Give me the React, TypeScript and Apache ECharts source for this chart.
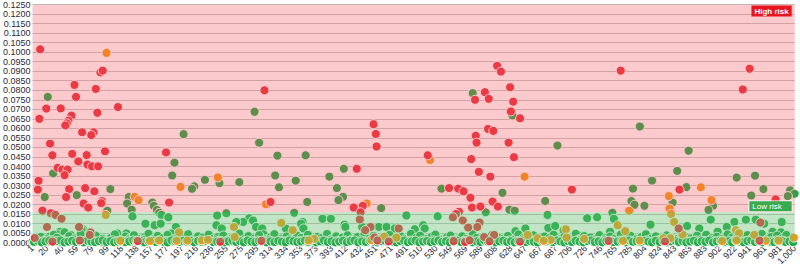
import React, { useEffect, useRef } from 'react';
import * as echarts from 'echarts';

// ---- axis definitions ----
const tickLabels = [1, 20, 40, 59, 79, 99, 118, 138, 157, 177, 197, 216, 236, 255, 275, 295, 314, 334, 353, 373, 393, 412, 432, 451, 471, 491, 510, 530, 549, 569, 589, 608, 628, 647, 667, 687, 706, 726, 746, 765, 785, 804, 824, 843, 863, 883, 902, 922, 941, 961, 981, 1000];
const xMin = 1;
const xMax = 1000;
const yMin = 0;
const yMax = 0.125;
const yStep = 0.005;
const lowRiskLimit = 0.016;
const highRiskName = 'High risk';
const lowRiskName = 'Low risk';

// ---- red (high) points: [index, value] ----
const redPoints: [number, number][] = [
  [11, 0.1015], [90, 0.0894], [93, 0.0903], [56, 0.0828], [84, 0.0807], [58, 0.0765], [19, 0.0704], [38, 0.0705],
  [113, 0.0712], [10, 0.065], [86, 0.0682], [52, 0.0667], [48, 0.0641], [46, 0.0627], [44, 0.0616], [66, 0.058],
  [81, 0.058], [78, 0.0565], [24, 0.052], [27, 0.0459], [53, 0.0466], [72, 0.046], [96, 0.048], [61, 0.0427],
  [73, 0.041], [79, 0.0401], [87, 0.0401], [34, 0.0393], [40, 0.0384], [47, 0.0384], [43, 0.0355], [9, 0.0325],
  [8, 0.0279], [49, 0.0282], [70, 0.0287], [82, 0.027], [45, 0.024], [68, 0.0206], [74, 0.0185], [92, 0.0219],
  [91, 0.0208], [14, 0.0168], [25, 0.0155], [31, 0.0146], [39, 0.0126], [20, 0.0083], [62, 0.0083], [77, 0.0055],
  [76, 0.0041], [4, 0.0025], [176, 0.0474], [180, 0.0211],
  [305, 0.08], [313, 0.0214], [422, 0.0185], [434, 0.0194], [431, 0.016], [430, 0.0122], [444, 0.0083], [437, 0.0066],
  [481, 0.0075], [547, 0.0287], [559, 0.0284], [566, 0.027], [575, 0.0236], [708, 0.0279], [577, 0.0185], [588, 0.019],
  [604, 0.0216], [611, 0.019], [601, 0.0347], [560, 0.0163], [556, 0.0151], [552, 0.0134], [565, 0.0117], [572, 0.008],
  [587, 0.0106], [584, 0.0083], [606, 0.0041],
  [610, 0.0928], [615, 0.0898], [594, 0.079], [581, 0.075], [599, 0.0755], [627, 0.0816], [631, 0.074], [628, 0.0689],
  [640, 0.0653], [582, 0.0561], [598, 0.0597], [605, 0.0587], [583, 0.0525], [625, 0.0525], [576, 0.0439], [586, 0.0372],
  [632, 0.0449], [448, 0.0622], [451, 0.0571], [452, 0.0505], [426, 0.0388], [519, 0.0459],
  [772, 0.0903], [941, 0.0913], [932, 0.0804], [849, 0.0279], [975, 0.0228], [955, 0.0106], [848, 0.0075],
  [27, 0.0006], [63, 0.0012], [139, 0.0009], [247, 0.0005], [301, 0.001], [449, 0.0028], [453, 0.0012], [468, 0.0007],
  [553, 0.0009], [568, 0.0004], [574, 0.0013], [593, 0.003], [600, 0.0008], [640, 0.0006], [756, 0.001], [830, 0.0007],
  [954, 0.0011],
];

// ---- orange (medium) points ----
const orangePoints: [number, number][] = [
  [98, 0.0996], [135, 0.0241], [140, 0.0224], [195, 0.0293], [244, 0.0343], [307, 0.0202], [439, 0.0206], [522, 0.0434],
  [646, 0.0347], [877, 0.0291], [835, 0.0245], [836, 0.018], [891, 0.0224], [783, 0.0168], [999, 0.0027],
  [97, 0.0146], [193, 0.0055], [116, 0.001], [137, 0.0011], [155, 0.0009], [167, 0.0012], [190, 0.001], [204, 0.0011],
  [223, 0.0012], [327, 0.0104], [265, 0.0083], [342, 0.0066], [266, 0.003], [370, 0.002], [462, 0.0032], [478, 0.0027],
  [231, 0.0015], [650, 0.0041], [663, 0.0024], [700, 0.0071], [724, 0.002], [701, 0.0027], [680, 0.0015], [671, 0.001],
  [838, 0.0151], [842, 0.0109], [768, 0.0092], [778, 0.0061], [923, 0.0066], [927, 0.005], [947, 0.0041], [853, 0.0044],
  [828, 0.0024], [837, 0.0024], [775, 0.001], [797, 0.0011], [905, 0.0009], [924, 0.0012], [962, 0.001], [979, 0.0011],
  [363, 0.0012], [445, 0.0014],
];

// ---- green (low) points ----
const greenPoints: [number, number][] = [
  // above the band
  [21, 0.0765], [28, 0.0364], [103, 0.0282], [17, 0.024], [59, 0.025], [99, 0.0168], [199, 0.057], [187, 0.042],
  [184, 0.0353], [213, 0.0296], [210, 0.0283], [227, 0.033], [127, 0.024], [125, 0.0206], [131, 0.0173], [158, 0.0211],
  [160, 0.0194], [164, 0.0172], [167, 0.0157], [170, 0.0146], [179, 0.0134], [132, 0.0139], [292, 0.0687], [298, 0.0525],
  [322, 0.0457], [246, 0.0313], [272, 0.0318], [319, 0.0353], [346, 0.0326], [324, 0.0291], [361, 0.0214], [400, 0.0287],
  [408, 0.0241], [402, 0.0224], [390, 0.0347], [458, 0.0182], [359, 0.0459], [409, 0.0388], [537, 0.0284], [617, 0.0262],
  [673, 0.0219], [595, 0.016], [626, 0.0173], [633, 0.0168], [676, 0.0146], [578, 0.0785], [630, 0.0668], [689, 0.051],
  [797, 0.061], [861, 0.0483], [846, 0.0377], [813, 0.0326], [924, 0.0342], [948, 0.0352], [788, 0.0284], [858, 0.0292],
  [959, 0.0282], [994, 0.0275], [1000, 0.0257], [991, 0.0245], [943, 0.0248], [840, 0.0211], [893, 0.0194], [887, 0.0172],
  [786, 0.0219], [790, 0.0199], [803, 0.0194], [761, 0.0157],
  // inside the band
  [37, 0.0058], [67, 0.0071], [23, 0.0032], [51, 0.0041], [89, 0.0015], [149, 0.01], [161, 0.0092], [169, 0.01],
  [189, 0.0083], [183, 0.0049], [112, 0.0049], [124, 0.0049], [34, 0.0044], [43, 0.0055], [65, 0.007], [12, 0.0024],
  [243, 0.0143], [255, 0.0155], [285, 0.0129], [290, 0.0117], [344, 0.0157], [381, 0.0126], [392, 0.0126], [410, 0.0095],
  [455, 0.0083], [465, 0.0083], [277, 0.0109], [294, 0.0083], [355, 0.0109], [433, 0.0083], [491, 0.0143], [532, 0.0139],
  [728, 0.0129], [741, 0.0134], [513, 0.0092], [515, 0.0075], [502, 0.0071], [634, 0.0061], [647, 0.0075], [677, 0.0078],
  [686, 0.0088], [697, 0.0066], [721, 0.0037], [763, 0.0126], [890, 0.0121], [936, 0.0121], [949, 0.0121], [983, 0.0109],
  [960, 0.01], [811, 0.0095], [859, 0.0088], [758, 0.0058], [911, 0.0083], [921, 0.0109], [971, 0.0058], [982, 0.0055],
  [875, 0.0075], [899, 0.0058], [242, 0.0092], [249, 0.0075], [268, 0.0109], [302, 0.0075], [304, 0.0044], [333, 0.0075],
  [353, 0.01], [356, 0.0075], [411, 0.0083], [476, 0.0075],
  // second layer near the floor
  [3, 0.0022], [12, 0.0031], [19, 0.0018], [29, 0.0042], [33, 0.0026], [44, 0.0019], [49, 0.0035], [57, 0.0023],
  [64, 0.0046], [73, 0.0017], [79, 0.0029], [84, 0.0038], [93, 0.0021], [104, 0.0027], [109, 0.0044], [118, 0.0016],
  [123, 0.0033], [129, 0.0024], [134, 0.004], [143, 0.002], [148, 0.003], [153, 0.0047], [159, 0.0018], [165, 0.0036],
  [172, 0.0025], [178, 0.0041], [186, 0.0019], [192, 0.0032], [198, 0.0022], [205, 0.0045], [212, 0.0017], [218, 0.0034],
  [224, 0.0027], [232, 0.0043], [238, 0.0021], [244, 0.003], [251, 0.0038], [258, 0.0016], [263, 0.0026], [272, 0.0048],
  [279, 0.002], [284, 0.0035], [292, 0.0023], [298, 0.004], [307, 0.0018], [313, 0.0029], [318, 0.0045], [327, 0.0022],
  [334, 0.0033], [339, 0.0019], [348, 0.0037], [353, 0.0025], [362, 0.0042], [368, 0.0017], [374, 0.0031], [379, 0.0024],
  [387, 0.0046], [393, 0.002], [399, 0.0034], [407, 0.0027], [414, 0.0039], [419, 0.0016], [427, 0.003], [436, 0.0044],
  [442, 0.0021], [448, 0.0036], [457, 0.0018], [463, 0.0028], [469, 0.0041], [477, 0.0023], [484, 0.0033], [489, 0.0019],
  [497, 0.0047], [504, 0.0026], [509, 0.0037], [518, 0.002], [524, 0.0031], [529, 0.0043], [538, 0.0017], [544, 0.0029],
  [549, 0.0038], [558, 0.0022], [564, 0.0034], [569, 0.0019], [578, 0.0045], [583, 0.0025], [592, 0.0032], [598, 0.0018],
  [603, 0.004], [612, 0.0027], [618, 0.0021], [624, 0.0036], [632, 0.0016], [638, 0.0044], [644, 0.0024], [653, 0.003],
  [658, 0.0039], [664, 0.0019], [672, 0.0033], [679, 0.0026], [684, 0.0042], [692, 0.0018], [698, 0.0031], [704, 0.0023],
  [713, 0.0047], [718, 0.002], [724, 0.0035], [732, 0.0028], [738, 0.0017], [744, 0.004], [752, 0.0024], [758, 0.0033],
  [764, 0.0019], [772, 0.0043], [779, 0.0026], [785, 0.0036], [792, 0.0018], [799, 0.003], [805, 0.0045], [812, 0.0022],
  [818, 0.0034], [824, 0.0016], [832, 0.0039], [838, 0.0027], [844, 0.002], [852, 0.0046], [857, 0.0031], [864, 0.0023],
  [872, 0.0037], [878, 0.0018], [884, 0.0042], [892, 0.0025], [898, 0.0032], [904, 0.0019], [912, 0.0044], [918, 0.0028],
  [925, 0.0036], [933, 0.0017], [938, 0.004], [944, 0.0023], [952, 0.0033], [957, 0.0046], [964, 0.002], [969, 0.003],
  [977, 0.0038], [984, 0.0024], [989, 0.0041], [997, 0.0019],
  // floor row
  [1, 0.0008], [6, 0.0012], [11, 0.0005], [16, 0.001], [21, 0.0004], [26, 0.0014], [31, 0.0007], [36, 0.0003], [41, 0.0011], [46, 0.0006],
  [51, 0.0009], [56, 0.0013], [61, 0.0004], [66, 0.0008], [71, 0.0012], [76, 0.0005], [81, 0.001], [86, 0.0007], [91, 0.0003], [96, 0.0011],
  [101, 0.0006], [106, 0.0013], [111, 0.0009], [116, 0.0004], [121, 0.0008], [126, 0.0012], [131, 0.0005], [136, 0.001], [141, 0.0006], [146, 0.0014],
  [151, 0.0003], [156, 0.0009], [161, 0.0007], [166, 0.0012], [171, 0.0004], [176, 0.001], [181, 0.0008], [186, 0.0005], [191, 0.0013], [196, 0.0006],
  [201, 0.0011], [206, 0.0004], [211, 0.0009], [216, 0.0007], [221, 0.0012], [226, 0.0003], [231, 0.001], [236, 0.0006], [241, 0.0013], [246, 0.0008],
  [251, 0.0005], [256, 0.0011], [261, 0.0004], [266, 0.0009], [271, 0.0014], [276, 0.0006], [281, 0.001], [286, 0.0003], [291, 0.0008], [296, 0.0012],
  [301, 0.0005], [306, 0.0009], [311, 0.0013], [316, 0.0007], [321, 0.0004], [326, 0.0011], [331, 0.0008], [336, 0.0006], [341, 0.0012], [346, 0.0003],
  [351, 0.001], [356, 0.0007], [361, 0.0014], [366, 0.0005], [371, 0.0009], [376, 0.0011], [381, 0.0004], [386, 0.0008], [391, 0.0013], [396, 0.0006],
  [401, 0.001], [406, 0.0003], [411, 0.0012], [416, 0.0007], [421, 0.0009], [426, 0.0005], [431, 0.0013], [436, 0.0008], [441, 0.0004], [446, 0.0011],
  [451, 0.0006], [456, 0.001], [461, 0.0014], [466, 0.0003], [471, 0.0009], [476, 0.0007], [481, 0.0012], [486, 0.0005], [491, 0.0008], [496, 0.0011],
  [501, 0.0007], [506, 0.0004], [511, 0.0012], [516, 0.0009], [521, 0.0005], [526, 0.0013], [531, 0.0008], [536, 0.0003], [541, 0.001], [546, 0.0006],
  [551, 0.0011], [556, 0.0014], [561, 0.0004], [566, 0.0009], [571, 0.0007], [576, 0.0012], [581, 0.0005], [586, 0.001], [591, 0.0006], [596, 0.0013],
  [601, 0.0003], [606, 0.0008], [611, 0.0011], [616, 0.0005], [621, 0.0009], [626, 0.0012], [631, 0.0004], [636, 0.001], [641, 0.0007], [646, 0.0014],
  [651, 0.0006], [656, 0.0009], [661, 0.0003], [666, 0.0011], [671, 0.0008], [676, 0.0005], [681, 0.0013], [686, 0.0007], [691, 0.001], [696, 0.0004],
  [701, 0.0012], [706, 0.0006], [711, 0.0009], [716, 0.0014], [721, 0.0005], [726, 0.0008], [731, 0.0011], [736, 0.0003], [741, 0.001], [746, 0.0007],
  [751, 0.0013], [756, 0.0004], [761, 0.0009], [766, 0.0006], [771, 0.0012], [776, 0.0008], [781, 0.0005], [786, 0.0011], [791, 0.0003], [796, 0.001],
  [801, 0.0007], [806, 0.0013], [811, 0.0004], [816, 0.0009], [821, 0.0012], [826, 0.0006], [831, 0.001], [836, 0.0005], [841, 0.0014], [846, 0.0008],
  [851, 0.0003], [856, 0.0011], [861, 0.0007], [866, 0.0009], [871, 0.0012], [876, 0.0004], [881, 0.001], [886, 0.0006], [891, 0.0013], [896, 0.0008],
  [901, 0.0005], [906, 0.0011], [911, 0.0003], [916, 0.0009], [921, 0.0012], [926, 0.0007], [931, 0.0004], [936, 0.001], [941, 0.0006], [946, 0.0013],
  [951, 0.0008], [956, 0.0005], [961, 0.0011], [966, 0.0003], [971, 0.0009], [976, 0.0012], [981, 0.0006], [986, 0.001], [991, 0.0004], [996, 0.0008],
  // interleaved floor row
  [3, 0.0004], [8, 0.0009], [13, 0.0002], [18, 0.0007], [23, 0.0011], [28, 0.0003], [33, 0.0008], [38, 0.0012], [43, 0.0002], [48, 0.0006],
  [53, 0.001], [58, 0.0004], [63, 0.0007], [68, 0.0002], [73, 0.0011], [78, 0.0006], [83, 0.0003], [88, 0.0009], [93, 0.0012], [98, 0.0004],
  [103, 0.0008], [108, 0.0002], [113, 0.0006], [118, 0.0011], [123, 0.0003], [128, 0.0007], [133, 0.0012], [138, 0.0004], [143, 0.0009], [148, 0.0002],
  [153, 0.0006], [158, 0.0011], [163, 0.0003], [168, 0.0008], [173, 0.0005], [178, 0.0002], [183, 0.0012], [188, 0.0007], [193, 0.0003], [198, 0.001],
  [203, 0.0006], [208, 0.0011], [213, 0.0002], [218, 0.0009], [223, 0.0004], [228, 0.0008], [233, 0.0012], [238, 0.0003], [243, 0.0006], [248, 0.001],
  [253, 0.0002], [258, 0.0007], [263, 0.0011], [268, 0.0004], [273, 0.0008], [278, 0.0002], [283, 0.0012], [288, 0.0006], [293, 0.0003], [298, 0.0009],
  [303, 0.0011], [308, 0.0002], [313, 0.0007], [318, 0.0004], [323, 0.001], [328, 0.0006], [333, 0.0002], [338, 0.0012], [343, 0.0008], [348, 0.0004],
  [353, 0.0006], [358, 0.0011], [363, 0.0003], [368, 0.0009], [373, 0.0002], [378, 0.0007], [383, 0.0012], [388, 0.0004], [393, 0.0008], [398, 0.0002],
  [403, 0.0006], [408, 0.0011], [413, 0.0003], [418, 0.0009], [423, 0.0012], [428, 0.0002], [433, 0.0007], [438, 0.0004], [443, 0.001], [448, 0.0006],
  [453, 0.0002], [458, 0.0008], [463, 0.0011], [468, 0.0004], [473, 0.0006], [478, 0.0002], [483, 0.0009], [488, 0.0012], [493, 0.0003], [498, 0.0007],
  [503, 0.0011], [508, 0.0002], [513, 0.0006], [518, 0.0009], [523, 0.0003], [528, 0.0007], [533, 0.0012], [538, 0.0004], [543, 0.0008], [548, 0.0002],
  [553, 0.0006], [558, 0.001], [563, 0.0003], [568, 0.0008], [573, 0.0011], [578, 0.0002], [583, 0.0007], [588, 0.0004], [593, 0.0012], [598, 0.0006],
  [603, 0.0009], [608, 0.0002], [613, 0.0007], [618, 0.0011], [623, 0.0004], [628, 0.0008], [633, 0.0002], [638, 0.0006], [643, 0.0012], [648, 0.0003],
  [653, 0.0009], [658, 0.0005], [663, 0.0002], [668, 0.0011], [673, 0.0006], [678, 0.0009], [683, 0.0003], [688, 0.0012], [693, 0.0007], [698, 0.0002],
  [703, 0.0008], [708, 0.0004], [713, 0.0011], [718, 0.0006], [723, 0.0002], [728, 0.0009], [733, 0.0012], [738, 0.0004], [743, 0.0007], [748, 0.0002],
  [753, 0.0008], [758, 0.0011], [763, 0.0003], [768, 0.0006], [773, 0.0009], [778, 0.0002], [783, 0.0012], [788, 0.0005], [793, 0.0008], [798, 0.0003],
  [803, 0.001], [808, 0.0006], [813, 0.0002], [818, 0.0011], [823, 0.0004], [828, 0.0008], [833, 0.0002], [838, 0.0007], [843, 0.0012], [848, 0.0004],
  [853, 0.0009], [858, 0.0002], [863, 0.0006], [868, 0.0011], [873, 0.0003], [878, 0.0008], [883, 0.0005], [888, 0.0012], [893, 0.0002], [898, 0.0007],
  [903, 0.001], [908, 0.0004], [913, 0.0008], [918, 0.0002], [923, 0.0011], [928, 0.0006], [933, 0.0003], [938, 0.0009], [943, 0.0012], [948, 0.0004],
  [953, 0.0007], [958, 0.0002], [963, 0.001], [968, 0.0006], [973, 0.0003], [978, 0.0008], [983, 0.0011], [988, 0.0004], [993, 0.0007], [998, 0.0003],
];

const colors = {
  red: '#e9333d',
  orange: '#f59a14',
  green: '#1faa46',
  highArea: 'rgba(240,80,90,0.3)',
  lowArea: 'rgba(100,190,110,0.4)',
  highLabel: '#e8141e',
  lowLabel: '#3aaa4e',
  grid: '#c4c4c4',
  axisText: '#2a2a3a',
};

function scatter(name: string, data: [number, number][], color: string) {
  return {
    type: 'scatter',
    name,
    data,
    z: 2,
    symbolSize: 9,
    itemStyle: { color, borderColor: '#ffffff', borderWidth: 1, opacity: 1 },
  };
}

export default function App() {
  const ref = useRef<HTMLDivElement>(null);
  useEffect(() => {
    document.body.style.margin = '0';
    const chart = echarts.init(ref.current as HTMLDivElement, null, { renderer: 'svg' });
    chart.setOption({
      animation: false,
      textStyle: { fontFamily: 'Arial, "Liberation Sans", sans-serif' },
      grid: { left: 28, right: 4, top: 3, bottom: 20, containLabel: false },
      xAxis: {
        type: 'value',
        min: xMin,
        max: xMax,
        axisLine: { show: false },
        axisTick: { show: false },
        splitLine: { show: false },
        axisLabel: {
          customValues: tickLabels,
          rotate: 45,
          fontSize: 9,
          margin: 4,
          color: colors.axisText,
        },
      },
      yAxis: {
        type: 'value',
        min: yMin,
        max: yMax,
        interval: yStep,
        axisLine: { show: false },
        axisTick: { show: false },
        splitLine: { show: true, lineStyle: { color: colors.grid, width: 1 } },
        axisLabel: {
          fontSize: 9,
          margin: 2,
          color: colors.axisText,
          formatter: (v: number) => v.toFixed(4),
        },
      },
      series: [
        scatter('low', greenPoints, colors.green),
        scatter('medium', orangePoints, colors.orange),
        scatter('high', redPoints, colors.red),
        {
          type: 'scatter',
          name: 'zones',
          data: [],
          z: 10,
          markArea: {
            silent: true,
            z: 10,
            data: [
              [
                {
                  name: highRiskName,
                  yAxis: lowRiskLimit,
                  itemStyle: { color: colors.highArea },
                  label: {
                    show: true,
                    position: ['100%', 0],
                    align: 'right',
                    verticalAlign: 'top',
                    offset: [-3, 1],
                    color: '#ffffff',
                    fontSize: 8,
                    fontWeight: 'bold',
                    backgroundColor: colors.highLabel,
                    padding: [2, 3, 1, 3],
                  },
                },
                { yAxis: yMax },
              ],
              [
                {
                  name: lowRiskName,
                  yAxis: yMin,
                  itemStyle: { color: colors.lowArea },
                  label: {
                    show: true,
                    position: ['100%', 0],
                    align: 'right',
                    verticalAlign: 'bottom',
                    offset: [-3, -1],
                    color: '#ffffff',
                    fontSize: 8,
                    backgroundColor: colors.lowLabel,
                    borderColor: 'rgba(255,255,255,0.7)',
                    borderWidth: 1,
                    padding: [1, 10, 1, 3],
                  },
                },
                { yAxis: lowRiskLimit },
              ],
            ],
          },
        },
      ],
    });
    return () => chart.dispose();
  }, []);
  return <div ref={ref} style={{ width: 800, height: 268 }} />;
}
